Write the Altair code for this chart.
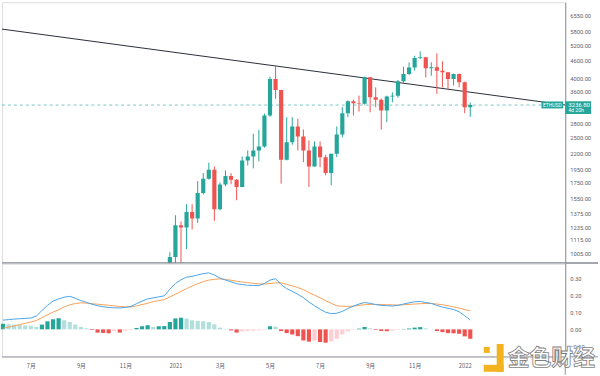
import altair as alt
import pandas as pd

# ---------------- data ----------------
# weekly ETHUSD candles (week starting Monday), first = 2020-12-28
candle_start = "2020-12-28"
opens = [730, 975, 1253, 1230, 1391, 1321, 1615, 1810, 1942, 1422,
         1727, 1847, 1796, 1694, 2090, 2157, 2261, 2333, 2979, 3978,
         3647, 2102, 2412, 2732, 2525, 2261, 1994, 2333, 2145, 1891,
         2203, 2565, 3034, 3335, 3283, 3270, 4028, 3440, 3372, 3099,
         3460, 3480, 3903, 4137, 4358, 4693, 4720, 4331, 4365, 4246,
         4190, 3978, 4137, 3873, 3181]
highs = [1013, 1356, 1290, 1479, 1479, 1776, 1891, 2052, 1994, 1758,
         1932, 1891, 1805, 2157, 2261, 2579, 2662, 3027, 4050, 4417,
         3650, 2940, 2940, 2903, 2668, 2447, 2428, 2428, 2186, 2205,
         2732, 3181, 3360, 3380, 3487, 4050, 4040, 3722, 3407, 3487,
         3579, 3946, 4382, 4533, 4778, 4943, 4735, 4533, 4867, 4569,
         4200, 4150, 4150, 3894, 3300]
lows = [715, 900, 905, 1037, 1211, 1276, 1599, 1795, 1296, 1410,
        1704, 1731, 1526, 1690, 2009, 1963, 2078, 2310, 2950, 3398,
        1740, 2090, 2365, 2261, 2062, 1694, 1990, 1982, 1857, 1717,
        2145, 2507, 2940, 2979, 3075, 3250, 3058, 3181, 2668, 2826,
        3308, 3430, 3864, 4103, 4246, 4657, 4028, 4080, 3534, 3722,
        3676, 3778, 3722, 3034, 2950]
closes = [975, 1253, 1230, 1391, 1321, 1615, 1810, 1942, 1422, 1727,
          1847, 1796, 1694, 2090, 2157, 2261, 2333, 2979, 3978, 3647,
          2102, 2412, 2732, 2525, 2261, 1994, 2333, 2145, 1891, 2203,
          2565, 3034, 3335, 3283, 3270, 4028, 3440, 3372, 3099, 3460,
          3480, 3903, 4137, 4358, 4693, 4720, 4331, 4365, 4246, 4190,
          3978, 4137, 3873, 3181, 3236.8]

# weekly MACD panel, first = 2020-06-01
macd_start = "2020-06-01"
macd_vals = [0.054, 0.057, 0.060, 0.062, 0.064, 0.066, 0.078, 0.110, 0.140, 0.165,
             0.178, 0.188, 0.193, 0.182, 0.168, 0.158, 0.147, 0.138, 0.132, 0.128,
             0.126, 0.125, 0.128, 0.134, 0.150, 0.165, 0.178, 0.184, 0.190, 0.196,
             0.235, 0.268, 0.290, 0.305, 0.310, 0.318, 0.326, 0.330, 0.318, 0.300,
             0.288, 0.278, 0.267, 0.262, 0.258, 0.256, 0.256, 0.268, 0.288, 0.296,
             0.262, 0.238, 0.222, 0.205, 0.185, 0.160, 0.138, 0.118, 0.100, 0.092,
             0.094, 0.105, 0.122, 0.136, 0.148, 0.157, 0.152, 0.145, 0.140, 0.138,
             0.137, 0.140, 0.148, 0.155, 0.161, 0.163, 0.157, 0.152, 0.140, 0.130,
             0.123, 0.116, 0.103, 0.080, 0.055]
signal_vals = [0.006, 0.013, 0.020, 0.028, 0.035, 0.043, 0.052, 0.068, 0.085, 0.101,
               0.114, 0.131, 0.143, 0.151, 0.155, 0.153, 0.150, 0.147, 0.144, 0.141,
               0.137, 0.134, 0.132, 0.131, 0.137, 0.145, 0.152, 0.162, 0.168, 0.174,
               0.190, 0.205, 0.222, 0.238, 0.254, 0.266, 0.279, 0.288, 0.292, 0.295,
               0.292, 0.287, 0.281, 0.277, 0.273, 0.269, 0.266, 0.265, 0.268, 0.272,
               0.272, 0.263, 0.254, 0.245, 0.232, 0.215, 0.200, 0.185, 0.168, 0.152,
               0.138, 0.135, 0.134, 0.136, 0.140, 0.144, 0.146, 0.146, 0.145, 0.144,
               0.143, 0.142, 0.144, 0.146, 0.148, 0.150, 0.151, 0.151, 0.148, 0.144,
               0.138, 0.131, 0.124, 0.116, 0.108]
hist_vals = [0.033, 0.030, 0.028, 0.025, 0.023, 0.021, 0.014, 0.028, 0.047, 0.059,
             0.065, 0.053, 0.043, 0.028, 0.014, 0.006, -0.004, -0.019, -0.021, -0.023,
             -0.010, -0.019, -0.008, -0.004, 0.008, 0.018, 0.024, 0.014, 0.018, 0.019,
             0.043, 0.064, 0.068, 0.063, 0.053, 0.049, 0.047, 0.043, 0.029, 0.010,
             0.002, -0.006, -0.019, -0.012, -0.010, -0.008, -0.006, -0.003, 0.018, 0.016,
             -0.010, -0.022, -0.030, -0.040, -0.065, -0.072, -0.066, -0.074, -0.078, -0.070,
             -0.055, -0.029, -0.012, -0.002, 0.004, 0.014, 0.006, -0.004, -0.010, -0.011,
             -0.008, -0.004, 0.002, 0.005, 0.010, 0.013, 0.006, 0.001, -0.010, -0.016,
             -0.022, -0.023, -0.026, -0.041, -0.055]

price_ticks = [1005, 1115, 1235, 1375, 1550, 1750, 1950, 2200, 2500, 2800,
               3600, 4000, 4600, 5200, 5800, 6550]
macd_ticks = [0.3, 0.2, 0.1, 0.0, -0.1]
month_ticks = ["2020-07-06", "2020-09-07", "2020-11-02", "2021-01-04", "2021-03-01",
               "2021-05-03", "2021-07-05", "2021-09-06", "2021-11-01", "2022-01-03"]

last_price = 3236.8
symbol = "ETHUSD"
countdown = "4d 20h"
trend_dates = ["2020-05-30T18:00:00Z", "2022-05-09T12:00:00Z"]
trend_prices = [5897, 3238]
watermark = "金色财经"

# ---------------- tables ----------------
c_dates = pd.date_range(candle_start, periods=len(opens), freq="7D").strftime("%Y-%m-%d")
candles = pd.DataFrame({"date": c_dates, "open": opens, "high": highs,
                        "low": lows, "close": closes})
candles["dir"] = ["up" if c >= o else "down" for o, c in zip(opens, closes)]

m_dates = pd.date_range(macd_start, periods=len(macd_vals), freq="7D").strftime("%Y-%m-%d")
macd = pd.DataFrame({"date": m_dates, "macd": macd_vals, "signal": signal_vals,
                     "hist": hist_vals})
prev = macd["hist"].shift(1).fillna(0)
macd["hc"] = [
    ("pu" if h > p else "pd") if h >= 0 else ("nd" if h < p else "nu")
    for h, p in zip(macd["hist"], prev)
]

trend = pd.DataFrame({"date": trend_dates, "price": trend_prices})
last = pd.DataFrame({"price": [last_price], "sym": [symbol], "cd": [countdown]})
one = pd.DataFrame({"a": [0]})


def ms(s):
    return int(pd.Timestamp(s, tz="UTC").value // 10**6)


xscale = alt.Scale(type="utc", domain=[ms("2020-05-30T18:00"), ms("2022-05-09T12:00")],
                   padding=0, nice=False)
yscale = alt.Scale(type="log", domain=[926, 7290], nice=False, padding=0)
mscale = alt.Scale(domain=[-0.161, 0.385], nice=False, zero=False, padding=0)

LABEL_COLOR = "#5d606b"
AX_COLOR = "#8f9199"

price_axis = alt.Axis(orient="right", values=price_ticks, format=".2f", grid=False,
                      ticks=False, domainColor=AX_COLOR, domainWidth=1,
                      labelFontSize=5.8, labelColor=LABEL_COLOR, labelFont="Roboto",
                      labelPadding=4.5, labelAlign="left", minExtent=33, maxExtent=33,
                      labelOverlap=False, title=None)
macd_axis = alt.Axis(orient="right", values=macd_ticks, format=".2f", grid=False,
                     ticks=False, domainColor=AX_COLOR, domainWidth=1,
                     labelFontSize=5.8, labelColor=LABEL_COLOR, labelFont="Roboto",
                     labelPadding=4.5, labelAlign="left", minExtent=33, maxExtent=33,
                     labelOverlap=False, title=None)
time_axis = alt.Axis(values=[ms(d) for d in month_ticks], grid=False, ticks=False,
                     tickSize=0, domain=False, labelFontSize=5.8, labelColor=LABEL_COLOR,
                     labelFont="Noto Sans CJK SC", labelPadding=6, labelFlush=False,
                     labelOverlap=False, minExtent=19, maxExtent=19, title=None,
                     labelExpr="utcmonth(datum.value) == 0 ? utcFormat(datum.value, '%Y') : (utcmonth(datum.value) + 1) + '月'")


def px(f):
    return alt.X(f, type="temporal", scale=xscale, axis=None, title=None)


def py(f):
    return alt.Y(f, type="quantitative", scale=yscale, axis=price_axis, title=None)


def mx(f):
    return alt.X(f, type="temporal", scale=xscale, axis=time_axis, title=None)


def my(f):
    return alt.Y(f, type="quantitative", scale=mscale, axis=macd_axis, title=None)


dir_color = alt.Color("dir:N", scale=alt.Scale(domain=["up", "down"],
                                               range=["#26a69a", "#ef5350"]), legend=None)

# ---------------- price panel ----------------
price_line = alt.Chart(last).mark_rule(strokeDash=[3, 3], color="#26a69a", opacity=0.6,
                                       strokeWidth=1).encode(
    y=py("price"), x=alt.value(0), x2=alt.value(543))
trend_line = alt.Chart(trend).mark_line(color="#2a2e39", strokeWidth=1, clip=True).encode(
    x=px("date"), y=py("price"))
wicks = alt.Chart(candles).mark_rule(strokeWidth=1, clip=True).encode(
    x=px("date"), y=py("low"), y2="high", color=dir_color)
bodies = alt.Chart(candles).mark_bar(size=4.2, clip=True).encode(
    x=px("date"), y=py("open"), y2="close", color=dir_color)
separator = alt.Chart(one).mark_rule(color="#868993", strokeWidth=1.5).encode(
    x=alt.value(0), x2=alt.value(600), y=alt.value(262.5))
price_box = alt.Chart(last).mark_rect(color="#26a69a", yOffset=-3.8, y2Offset=9).encode(
    x=alt.value(567), x2=alt.value(593), y=py("price"), y2="price")
price_txt = alt.Chart(last).mark_text(align="left", baseline="middle", color="white",
                                      fontSize=6, font="Roboto", dy=0).encode(
    x=alt.value(570), y=py("price"), text=alt.Text("price:Q", format=".2f"))
cd_txt = alt.Chart(last).mark_text(align="left", baseline="middle", color="white",
                                   fontSize=5.2, font="Roboto", dy=5.2).encode(
    x=alt.value(570), y=py("price"), text="cd:N")
sym_box = alt.Chart(last).mark_rect(color="#26a69a", yOffset=-3.6, y2Offset=3.4).encode(
    x=alt.value(543), x2=alt.value(565), y=py("price"), y2="price")
sym_txt = alt.Chart(last).mark_text(align="center", baseline="middle", color="white",
                                    fontSize=5, font="Roboto").encode(
    x=alt.value(554), y=py("price"), text="sym:N")

main = alt.layer(price_line, trend_line, wicks, bodies, separator, sym_box, sym_txt,
                 price_box, price_txt, cd_txt).properties(width=567, height=263)

# ---------------- MACD panel ----------------
hist_color = alt.Color("hc:N", scale=alt.Scale(domain=["pu", "pd", "nd", "nu"],
                                               range=["#26a69a", "#b2dfdb", "#ef5350", "#ffcdd2"]),
                       legend=None)
hist = alt.Chart(macd).mark_bar(size=4.2).encode(
    x=mx("date"), y=my("hist"), y2=alt.datum(0), color=hist_color)
sig = alt.Chart(macd).mark_line(color="#f7a058", strokeWidth=1).encode(
    x=mx("date"), y=my("signal"))
mline = alt.Chart(macd).mark_line(color="#4aa3ea", strokeWidth=1).encode(
    x=mx("date"), y=my("macd"))
bottom_rule = alt.Chart(one).mark_rule(color="#9a9ca3", strokeWidth=1).encode(
    x=alt.value(0), x2=alt.value(600), y=alt.value(94))
axis_tail = alt.Chart(one).mark_rule(color=AX_COLOR, strokeWidth=1).encode(
    x=alt.value(567), y=alt.value(94), y2=alt.value(112))
logo_a = alt.Chart(one).mark_rect(color="#f2b31f").encode(
    x=alt.value(485), x2=alt.value(491), y=alt.value(84), y2=alt.value(90))
logo_b = alt.Chart(one).mark_rect(color="#f2b31f").encode(
    x=alt.value(498), x2=alt.value(505), y=alt.value(81), y2=alt.value(109))
logo_c = alt.Chart(one).mark_rect(color="#f2b31f").encode(
    x=alt.value(485), x2=alt.value(505), y=alt.value(102), y2=alt.value(109))
wm = alt.Chart(pd.DataFrame({"t": [watermark]})).mark_text(
    font="Noto Sans CJK SC", fontSize=22, fontWeight="bold", fill="#ffffff",
    fillOpacity=0.85, stroke="#7f7f7f", strokeWidth=0.8, align="center",
    baseline="middle").encode(x=alt.value(553), y=alt.value(95), text="t:N")

lower = alt.layer(hist, sig, mline, bottom_rule, axis_tail, logo_a, logo_b, logo_c,
                  wm).properties(width=567, height=94)

chart = alt.vconcat(main, lower, spacing=0, bounds="flush").resolve_scale(
    color="independent", x="independent", y="independent"
).properties(
    padding={"left": 0, "right": 0, "top": 0, "bottom": 0}
).configure_view(stroke=None).configure(background="white")

chart.save("out.html", embed_options={"renderer": "svg", "actions": False})
